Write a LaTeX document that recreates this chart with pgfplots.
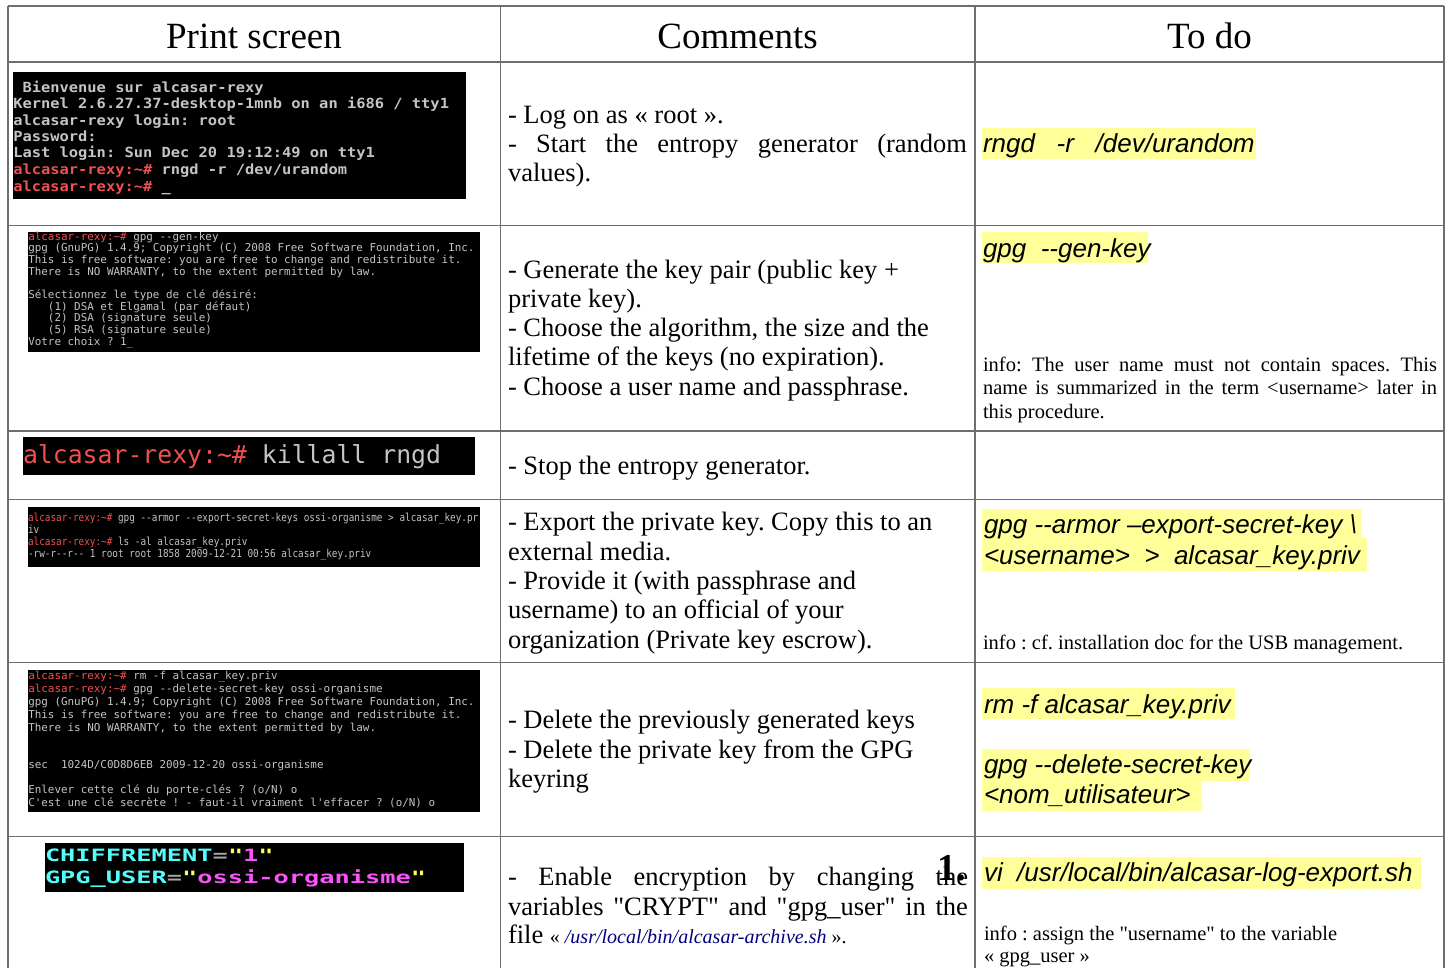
\documentclass[border=0pt]{standalone}
\usepackage{fontspec}
\usepackage{pgfplots}
\pgfplotsset{compat=1.18}
\setmainfont{Liberation Serif}[Ligatures=TeXOff]
\newfontfamily\cmdfont{Liberation Sans}[Ligatures=TeXOff]
\newfontfamily\termB{DejaVu Sans Mono}[Ligatures=TeXOff]
\newfontfamily\termA{DejaVu Sans Mono}[Ligatures=TeXOff,FakeStretch=1.10]
\newfontfamily\termC{DejaVu Sans Mono}[Ligatures=TeXOff,FakeStretch=0.85]
\newfontfamily\termF{DejaVu Sans Mono}[Ligatures=TeXOff,FakeStretch=1.49]
\definecolor{gridc}{HTML}{6E6E6E}
\definecolor{hl}{HTML}{FFFF99}
\definecolor{tred}{HTML}{F05050}
\definecolor{tgray}{HTML}{C4C4C4}
\definecolor{vcyan}{HTML}{54FCFC}
\definecolor{vmag}{HTML}{FC54FC}
\definecolor{vyel}{HTML}{FCFC54}
\definecolor{vgray}{HTML}{A8A8A8}
\definecolor{linkc}{HTML}{000080}
\frenchspacing
\newcommand\body{\fontsize{26.5bp}{29bp}\selectfont}
\newcommand\head{\fontsize{37bp}{40bp}\selectfont}
\newcommand\info{\fontsize{20.5bp}{23bp}\selectfont}
\newcommand\cmd{\cmdfont\itshape\fontsize{26bp}{30bp}\selectfont}
\newcommand\fA{\termA\bfseries\fontsize{14bp}{16bp}\selectfont\color{tgray}}
\newcommand\fB{\termB\fontsize{10.9bp}{12bp}\selectfont\color{tgray}}
\newcommand\fC{\termC\fontsize{11bp}{12bp}\selectfont\color{tgray}}
\newcommand\fD{\termB\fontsize{24.8bp}{26bp}\selectfont\color{tgray}}
\newcommand\fF{\termF\bfseries\fontsize{17bp}{19bp}\selectfont}
\newcommand\prompt{\textcolor{tred}{alcasar-rexy:\textasciitilde\#}}
\newcommand{\T}[4]{\node[anchor=base west,inner sep=0pt,outer sep=0pt,font=#3] at (axis cs:#1,#2) {#4};}
\newcommand{\R}[5]{\addplot[fill=#5,draw=none] coordinates {(#1,#2) (#3,#2) (#3,#4) (#1,#4)} -- cycle;}
\newcommand{\HL}[4]{\addplot[gridc,line width=1.6bp] coordinates {(#1,#2) (#3,#4)};}
\begin{document}
\begin{tikzpicture}
\begin{axis}[
  width=1451bp, height=968bp, scale only axis,
  xmin=0, xmax=1451, ymin=0, ymax=968, y dir=reverse,
  hide axis, clip=false, at={(0,0)}, anchor=origin]
% screenshots (black panels)
\R{13}{72}{466}{199}{black}
\R{28}{232}{480}{352}{black}
\R{23}{437}{475}{475}{black}
\R{28}{507}{480}{567}{black}
\R{28}{670}{480}{812}{black}
\R{45}{843}{464}{892}{black}
% highlights
\R{982}{128}{1256}{159}{hl}
\R{982}{232}{1148}{263}{hl}
\R{982}{509}{1361}{538}{hl}
\R{982}{538}{1367}{571}{hl}
\R{982}{688}{1235}{719}{hl}
\R{982}{749}{1250}{781}{hl}
\R{982}{781}{1202}{811}{hl}
\R{982}{857}{1421}{889}{hl}
% grid
\HL{8}{6}{1444}{6}
\HL{8}{62}{1444}{62}
\HL{8}{225.5}{1444}{225.5}
\HL{8}{431}{1444}{431}
\HL{8}{499.5}{1444}{499.5}
\HL{8}{662.5}{1444}{662.5}
\HL{8}{836.5}{1444}{836.5}
\HL{8}{6}{8}{968}
\HL{500.5}{6}{500.5}{968}
\HL{975}{6}{975}{968}
\HL{1444}{6}{1444}{968}
% header
\node[anchor=base,inner sep=0pt,font=\head] at (axis cs:254,48) {Print screen};
\node[anchor=base,inner sep=0pt,font=\head] at (axis cs:737.5,48) {Comments};
\node[anchor=base,inner sep=0pt,font=\head] at (axis cs:1209.5,48) {To do};
% terminal 1
\T{13.3}{92}{\fA}{\ Bienvenue sur alcasar-rexy}
\T{13.3}{108.7}{\fA}{Kernel 2.6.27.37-desktop-1mnb on an i686 / tty1}
\T{13.3}{125.3}{\fA}{alcasar-rexy login: root}
\T{13.3}{141}{\fA}{Password:}
\T{13.3}{157.7}{\fA}{Last login: Sun Dec 20 19:12:49 on tty1}
\T{13.3}{174.3}{\fA}{\prompt\ rngd -r /dev/urandom}
\T{13.3}{191}{\fA}{\prompt\ \_}
% terminal 2
\T{28.3}{240}{\fB}{\prompt\ gpg --gen-key}
\T{28.3}{251.7}{\fB}{gpg (GnuPG) 1.4.9; Copyright (C) 2008 Free Software Foundation, Inc.}
\T{28.3}{263.3}{\fB}{This is free software: you are free to change and redistribute it.}
\T{28.3}{275}{\fB}{There is NO WARRANTY, to the extent permitted by law.}
\T{28.3}{298.3}{\fB}{Sélectionnez le type de clé désiré:}
\T{28.3}{310}{\fB}{\ \ \ (1) DSA et Elgamal (par défaut)}
\T{28.3}{321.7}{\fB}{\ \ \ (2) DSA (signature seule)}
\T{28.3}{333.3}{\fB}{\ \ \ (5) RSA (signature seule)}
\T{28.3}{345.3}{\fB}{Votre choix ? 1\_}
% terminal 3
\T{23}{463.3}{\fD}{\prompt\ killall rngd}
% terminal 4
\T{28}{521.7}{\fC}{\prompt\ gpg --armor --export-secret-keys ossi-organisme > alcasar\_key.pr}
\T{28}{533.3}{\fC}{iv}
\T{28}{545}{\fC}{\prompt\ ls -al alcasar\_key.priv}
\T{28}{557.3}{\fC}{-rw-r--r-- 1 root root 1858 2009-12-21 00:56 alcasar\_key.priv}
% terminal 5
\T{28.3}{679.3}{\fB}{\prompt\ rm -f alcasar\_key.priv}
\T{28.3}{692.7}{\fB}{\prompt\ gpg --delete-secret-key ossi-organisme}
\T{28.3}{705.3}{\fB}{gpg (GnuPG) 1.4.9; Copyright (C) 2008 Free Software Foundation, Inc.}
\T{28.3}{718}{\fB}{This is free software: you are free to change and redistribute it.}
\T{28.3}{731}{\fB}{There is NO WARRANTY, to the extent permitted by law.}
\T{28.3}{768.7}{\fB}{sec\ \ 1024D/C0D8D6EB 2009-12-20 ossi-organisme}
\T{28.3}{793.7}{\fB}{Enlever cette clé du porte-clés ? (o/N) o}
\T{28.3}{806.7}{\fB}{C'est une clé secrète ! - faut-il vraiment l'effacer ? (o/N) o}
% terminal 6
\T{45}{861}{\fF}{\textcolor{vcyan}{CHIFFREMENT}\textcolor{vgray}{=}\textcolor{vyel}{"}\textcolor{vmag}{1}\textcolor{vyel}{"}}
\T{45}{883.3}{\fF}{\textcolor{vcyan}{GPG\_USER}\textcolor{vgray}{=}\textcolor{vyel}{"}\textcolor{vmag}{ossi-organisme}\textcolor{vyel}{"}}
% comments column
\T{508}{123.3}{\body}{- Log on as « root ».}
\T{508}{152.7}{\body}{\makebox[459bp][s]{- Start the entropy generator (random}}
\T{508}{181.7}{\body}{values).}
\T{508}{278.3}{\body}{- Generate the key pair (public key +}
\T{508}{307.3}{\body}{private key).}
\T{508}{336.7}{\body}{- Choose the algorithm, the size and the}
\T{508}{365.7}{\body}{lifetime of the keys (no expiration).}
\T{508}{395}{\body}{- Choose a user name and passphrase.}
\T{508}{474}{\body}{- Stop the entropy generator.}
\T{508}{530.7}{\body}{- Export the private key. Copy this to an}
\T{508}{560}{\body}{external media.}
\T{508}{589}{\body}{- Provide it (with passphrase and}
\T{508}{618.7}{\body}{username) to an official of your}
\T{508}{648.3}{\body}{organization (Private key escrow).}
\T{508}{728.3}{\body}{- Delete the previously generated keys}
\T{508}{758.3}{\body}{- Delete the private key from the GPG}
\T{508}{787.3}{\body}{keyring}
\T{508}{885}{\body}{\makebox[460bp][s]{- Enable encryption by changing the}}
\T{508}{915}{\body}{\makebox[460bp][s]{variables "CRYPT" and "gpg\_user" in the}}
\T{508}{943}{\body}{file {\fontsize{20bp}{22bp}\selectfont « \textcolor{linkc}{\itshape /usr/local/bin/alcasar-archive.sh} ».}}
\T{937}{880}{\bfseries\fontsize{38bp}{40bp}\selectfont}{1.}
% to do column
\T{983}{152.7}{\cmd}{rngd\ \ \ -r\ \ \ /dev/urandom}
\T{983}{257}{\cmd}{gpg\ \ --gen-key}
\T{983}{371.7}{\info}{\makebox[454bp][s]{info: The user name must not contain spaces. This}}
\T{983}{394.3}{\info}{\makebox[454bp][s]{name is summarized in the term <username> later in}}
\T{983}{418.3}{\info}{this procedure.}
\T{984}{533.3}{\cmd}{gpg --armor –export-secret-key \textbackslash}
\T{984}{564.3}{\cmd}{<username>\ \ >\ \ alcasar\_key.priv}
\T{983}{649}{\info}{info : cf. installation doc for the USB management.}
\T{984}{713.3}{\cmd}{rm -f alcasar\_key.priv}
\T{984}{773.3}{\cmd}{gpg --delete-secret-key}
\T{984}{803}{\cmd}{<nom\_utilisateur>}
\T{984}{881.7}{\cmd}{vi\ \ /usr/local/bin/alcasar-log-export.sh}
\T{984}{940}{\info}{info : assign the "username" to the variable}
\T{984}{962}{\info}{« gpg\_user »}
\end{axis}
\pgfresetboundingbox
\path[use as bounding box] (0,-968bp) rectangle (1451bp,0);
\end{tikzpicture}
\end{document}
